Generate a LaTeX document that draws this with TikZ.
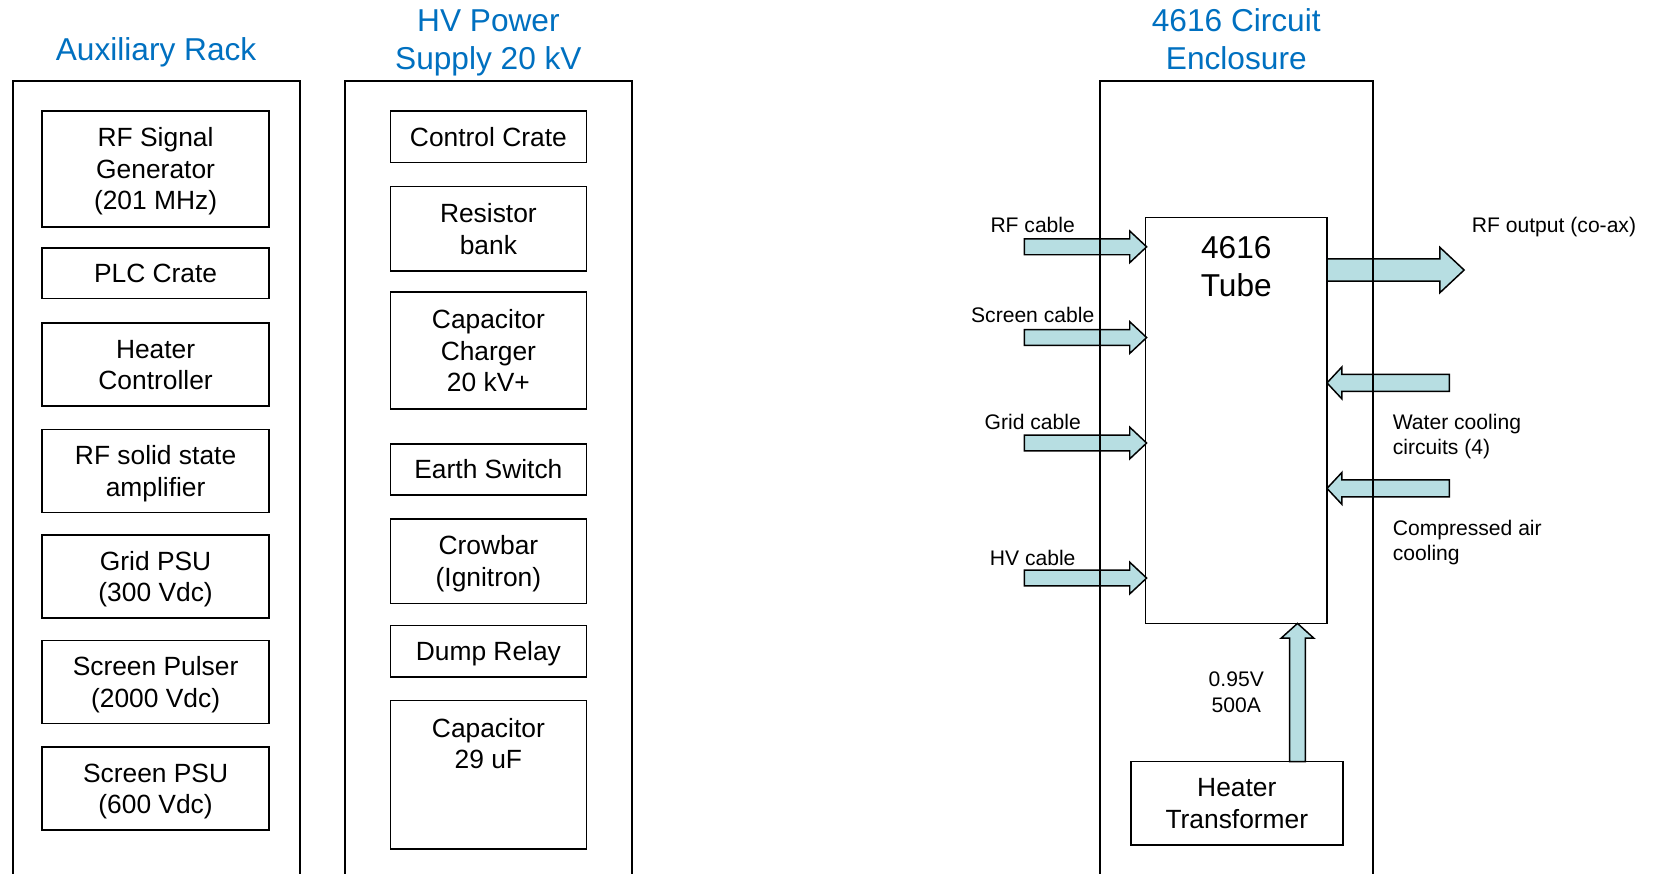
\documentclass[tikz,border=0pt]{standalone}
\usepackage{fontspec}
\setmainfont{Liberation Sans}
\definecolor{titleblue}{RGB}{0,112,192}
\definecolor{arrowfill}{RGB}{183,222,226}
\tikzset{
  box/.style={draw, line width=0.75pt, inner sep=0pt, outer sep=0pt},
  txt/.style={inner sep=0pt, align=center, yshift=-1.5pt, font=\fontsize{12.5}{15}\selectfont},
  bigtxt/.style={inner sep=0pt, align=center, yshift=-1.8pt, font=\fontsize{15}{18}\selectfont},
  rack/.style={line width=1pt},
  ttl/.style={text=titleblue, inner sep=0pt, align=center, yshift=-1.8pt, font=\fontsize{15}{18}\selectfont},
  lbl/.style={inner sep=0pt, align=left, yshift=-1.2pt, font=\fontsize{10}{12}\selectfont},
  barrow/.style={draw=black, fill=arrowfill, line width=0.7pt, line join=miter}
}
% box: name, x1, y1, x2, y2, text
\newcommand\bx[6]{\node[box, minimum width={(#4-#2)*0.5pt}, minimum height={(#5-#3)*0.5pt}] (#1) at ({(#2+#4)/2},{(#3+#5)/2}) {};
\node[txt] (#1t) at (#1.center) {#6};}
% horizontal block arrow: x0, xtip, y, shaft half, head half, signed head length
\newcommand\harr[6]{\draw[barrow] (#1,{#3-#4}) -- ({#2-#6},{#3-#4}) -- ({#2-#6},{#3-#5}) -- (#2,#3) -- ({#2-#6},{#3+#5}) -- ({#2-#6},{#3+#4}) -- (#1,{#3+#4}) -- cycle;}
% vertical block arrow: y0, ytip, x, shaft half, head half, signed head length
\newcommand\varr[6]{\draw[barrow] ({#3-#4},#1) -- ({#3-#4},{#2-#6}) -- ({#3-#5},{#2-#6}) -- (#3,#2) -- ({#3+#5},{#2-#6}) -- ({#3+#4},{#2-#6}) -- ({#3+#4},#1) -- cycle;}
\begin{document}
\begin{tikzpicture}[x=0.5pt,y=-0.5pt]
\useasboundingbox (0,0) rectangle (1568,828);
% ---------- Auxiliary rack ----------
\node[ttl] (tAux) at (148,47) {\strut Auxiliary Rack};
\bx{rfgen}{40}{105}{255}{215}{\strut RF Signal\\\strut Generator\\\strut (201 MHz)}
\bx{plc}{40}{235}{255}{283}{\strut PLC Crate}
\bx{heatc}{40}{306}{255}{385}{\strut Heater\\\strut Controller}
\bx{rfamp}{40}{407}{255}{486}{\strut RF solid state\\\strut amplifier}
\bx{grid}{40}{507}{255}{586}{\strut Grid PSU\\\strut (300 Vdc)}
\bx{spuls}{40}{607}{255}{686}{\strut Screen Pulser\\\strut (2000 Vdc)}
\bx{spsu}{40}{708}{255}{787}{\strut Screen PSU\\\strut (600 Vdc)}
\draw[rack] (12,830) -- (12,77) -- (284,77) -- (284,830);
% ---------- HV power supply ----------
\node[ttl] (tHV) at (463,37) {\strut HV Power\\\strut Supply 20 kV};
\bx{ctrl}{370}{105}{556}{154}{\strut Control Crate}
\bx{resb}{370}{177}{556}{257}{\strut Resistor\\\strut bank}
\bx{cchg}{370}{277}{556}{388}{\strut Capacitor\\\strut Charger\\\strut 20 kV+}
\bx{earth}{370}{421}{556}{469}{\strut Earth Switch}
\bx{crow}{370}{492}{556}{572}{\strut Crowbar\\\strut (Ignitron)}
\bx{dump}{370}{593}{556}{642}{\strut Dump Relay}
\bx{cap}{370}{664}{556}{805}{}
\node[txt] (capt) at (463,705) {\strut Capacitor\\\strut 29 uF};
\draw[rack] (327,830) -- (327,77) -- (599,77) -- (599,830);
% ---------- 4616 circuit enclosure ----------
\node[ttl] (tEnc) at (1172,37) {\strut 4616 Circuit\\\strut Enclosure};
\bx{tube}{1086}{206}{1258}{591}{}
\node[bigtxt] (tubet) at (1172,252) {\strut 4616\\\strut Tube};
\bx{htr}{1072}{722}{1273}{801}{\strut Heater\\\strut Transformer}
% arrows
\harr{971}{1087}{234}{7.5}{15}{16}
\harr{971}{1087}{320}{7.5}{15}{16}
\harr{971}{1087}{420}{7.5}{15}{16}
\harr{971}{1087}{548}{7.5}{15}{16}
\harr{1258}{1388}{256}{10.5}{21.5}{23}
\harr{1374}{1258}{363}{8}{15}{-14}
\harr{1374}{1258}{463}{8}{15}{-14}
\varr{722}{591}{1230}{7.5}{15.5}{-14}
\draw[rack] (1043,830) -- (1043,77) -- (1302,77) -- (1302,830);
% labels
\node[lbl] (lrf) at (979,213) {\strut RF cable};
\node[lbl] (lscr) at (979,299) {\strut Screen cable};
\node[lbl] (lgrid) at (979,400) {\strut Grid cable};
\node[lbl] (lhv) at (979,529) {\strut HV cable};
\node[lbl, anchor=west] (lout) at (1395,213) {\strut RF output (co-ax)};
\node[lbl, anchor=west] (lwat) at (1320,412) {\strut Water cooling\\\strut circuits (4)};
\node[lbl, anchor=west] (lair) at (1320,512) {\strut Compressed air\\\strut cooling};
\node[lbl, align=center] (lhtr) at (1172,656) {\strut 0.95V\\\strut 500A};
\end{tikzpicture}
\end{document}
